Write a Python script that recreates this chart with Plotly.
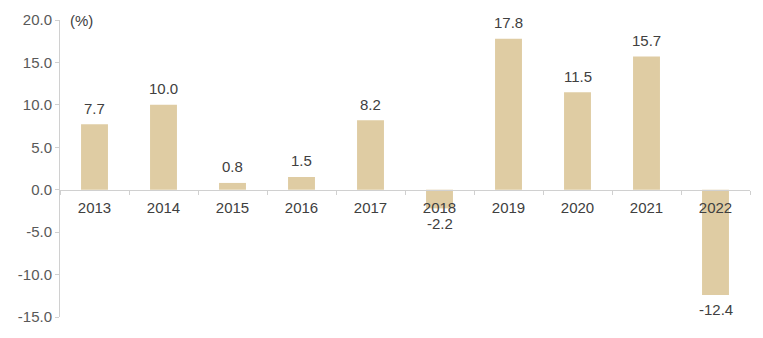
import plotly.graph_objects as go

years = ["2013", "2014", "2015", "2016", "2017", "2018", "2019", "2020", "2021", "2022"]
growth = [7.7, 10.0, 0.8, 1.5, 8.2, -2.2, 17.8, 11.5, 15.7, -12.4]
y_ticks = [20, 15, 10, 5, 0, -5, -10, -15]

y_min, y_max = -15, 20
bar_color = "#DFCCA3"
text_color = "#404040"
axis_color = "#D0D0D0"
font_family = "Liberation Sans, Arial, sans-serif"

fig = go.Figure()
fig.add_trace(go.Bar(
    x=years,
    y=growth,
    marker=dict(color=bar_color, line=dict(width=0)),
))

# value labels above positive bars, below negative ones (x given as category index)
value_labels = [
    dict(
        x=i, y=v, xref="x", yref="y", text=f"{v:.1f}", showarrow=False,
        xanchor="center", yanchor="middle",
        yshift=16 if v >= 0 else -15,
        font=dict(size=15, color=text_color),
    )
    for i, v in enumerate(growth)
]

zero_pos = (0 - y_min) / (y_max - y_min)

fig.update_layout(
    width=763, height=338,
    margin=dict(l=60, r=13, t=20, b=21),
    paper_bgcolor="white",
    plot_bgcolor="white",
    showlegend=False,
    bargap=0.61,
    font=dict(family=font_family, color=text_color),
    xaxis=dict(
        type="category",
        categoryorder="array",
        categoryarray=years,
        range=[-0.5, len(years) - 0.5],
        anchor="free",
        position=zero_pos,
        showline=True,
        linecolor=axis_color,
        linewidth=1,
        ticks="outside",
        tickson="boundaries",
        ticklen=4,
        tickcolor=axis_color,
        ticklabelstandoff=4,
        tickangle=0,
        tickfont=dict(size=15, color=text_color),
        showgrid=False,
        zeroline=False,
    ),
    yaxis=dict(
        range=[y_min, y_max],
        tickvals=y_ticks,
        ticktext=[f"{v:.1f}" for v in y_ticks],
        showline=True,
        linecolor=axis_color,
        linewidth=1,
        ticks="outside",
        ticklen=4,
        tickcolor=axis_color,
        tickfont=dict(size=15, color="#595959"),
        showgrid=False,
        zeroline=False,
    ),
    annotations=value_labels + [dict(
        text="(%)", x=0, y=y_max, xref="paper", yref="y",
        xanchor="left", yanchor="middle", xshift=8, showarrow=False,
        font=dict(size=15, color=text_color),
    )],
)

fig.write_html("out.html")
